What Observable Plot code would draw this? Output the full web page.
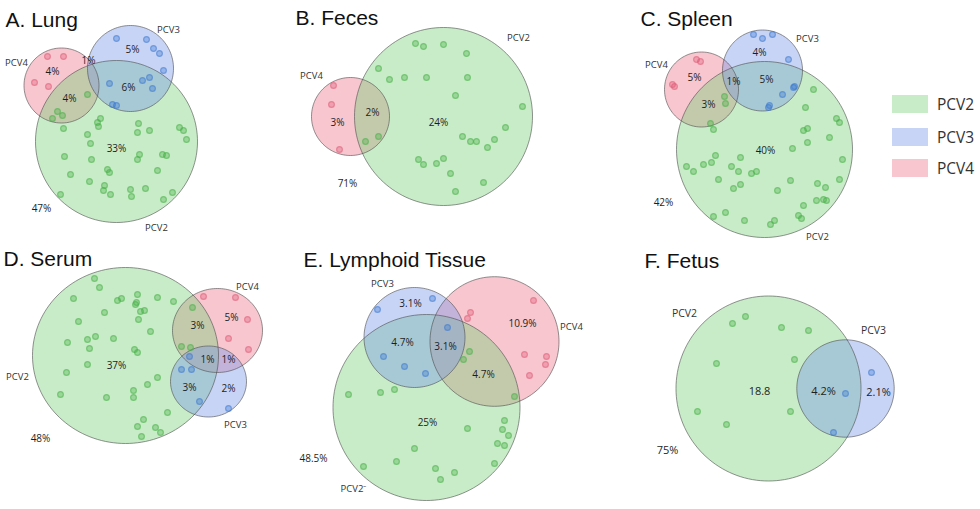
<!DOCTYPE html>
<html><head><meta charset="utf-8">
<script src="https://cdn.jsdelivr.net/npm/d3@7"></script>
<script src="https://cdn.jsdelivr.net/npm/@observablehq/plot@0.6"></script>
<style>
body{margin:0;background:#fff;}
#wrap{position:relative;width:980px;height:509px;overflow:hidden;}
#legend{position:absolute;left:892px;top:95px;font-family:"Open Sans",sans-serif;font-size:15.5px;color:#333;}
.item{position:absolute;left:0;display:flex;align-items:center;white-space:nowrap;height:18px;}
.sw{width:36px;height:18px;margin-right:9px;}
</style></head><body><div id="wrap"><div id="legend"></div></div>
<script>
// ---------- data ----------
const sets = ["PCV2", "PCV3", "PCV4"];
const panelTitles = ["A. Lung", "B. Feces", "C. Spleen", "D. Serum", "E. Lymphoid Tissue", "F. Fetus"];

// region percentages per panel
const lungValues   = ["47%", "4%", "1%", "5%", "4%", "6%", "33%"];
const fecesValues  = ["71%", "3%", "2%", "24%"];
const spleenValues = ["42%", "5%", "1%", "5%", "4%", "3%", "40%"];
const serumValues  = ["48%", "3%", "5%", "37%", "1%", "1%", "3%", "2%"];
const lymphValues  = ["48.5%", "3.1%", "10.9%", "4.7%", "3.1%", "4.7%", "25%"];
const fetusValues  = ["75%", "18.8", "4.2%", "2.1%"];

// set labels per panel
const lungSets   = ["PCV4", "PCV3", "PCV2"];
const fecesSets  = ["PCV2", "PCV4"];
const spleenSets = ["PCV4", "PCV3", "PCV2"];
const serumSets  = ["PCV4", "PCV3", "PCV2"];
const lymphSets  = ["PCV3", "PCV4", "PCV2⁻"];
const fetusSets  = ["PCV2", "PCV3"];

// sample points: [x, y, set]
const lungDots = [
  [47,56,"r"],[63,56,"r"],[34,82,"r"],[48,86,"r"],
  [87,94,"g"],[57,111,"g"],[62,115,"g"],[52,118,"g"],
  [116,38,"b"],[146,39,"b"],[153,48,"b"],[159,53,"b"],[163,70,"b"],
  [109,83,"b"],[142,80,"b"],[149,77,"b"],[152,88,"b"],[112,104,"b"],[116,105,"b"],
  [100,118,"g"],[97,122,"g"],[98,126,"g"],[63,128,"g"],[138,123,"g"],[137,132,"g"],[149,130,"g"],[179,127,"g"],
  [183,130,"g"],[186,139,"g"],[87,134,"g"],[90,143,"g"],[64,156,"g"],[91,159,"g"],[139,154,"g"],[137,159,"g"],
  [162,154,"g"],[166,155,"g"],[157,170,"g"],[70,174,"g"],[107,169,"g"],[109,172,"g"],[89,181,"g"],[104,185,"g"],
  [103,190,"g"],[110,194,"g"],[130,189,"g"],[131,196,"g"],[145,188,"g"],[60,194,"g"],[172,192,"g"],[163,199,"g"]
];
const fecesDots = [
  [333,85,"r"],[331,104,"r"],[339,149,"r"],
  [365,141,"g"],[378,136,"g"],
  [415,43,"g"],[423,46,"g"],[443,44,"g"],[466,53,"g"],[378,68,"g"],[389,79,"g"],[404,77,"g"],[426,77,"g"],
  [467,77,"g"],[455,95,"g"],[522,106,"g"],[505,127,"g"],[462,136,"g"],[470,141,"g"],[476,141,"g"],[494,139,"g"],
  [487,147,"g"],[418,159,"g"],[423,164,"g"],[436,163,"g"],[443,158,"g"],[450,173,"g"],[483,182,"g"],[455,191,"g"]
];
const spleenDots = [
  [696,59,"r"],[700,61,"r"],[672,84,"r"],[674,86,"r"],
  [724,96,"g"],[725,103,"g"],[710,123,"g"],
  [753,34,"b"],[762,38,"b"],[772,34,"b"],[788,59,"b"],
  [794,86,"b"],[793,87,"b"],[782,94,"b"],[769,105,"b"],[768,107,"b"],
  [813,89,"g"],[805,107,"g"],[713,129,"g"],[836,118,"g"],[839,122,"g"],[803,130,"g"],[807,128,"g"],[829,137,"g"],
  [807,142,"g"],[792,148,"g"],[715,155,"g"],[740,157,"g"],[711,162,"g"],[703,164,"g"],[686,166,"g"],[693,171,"g"],
  [731,166,"g"],[738,171,"g"],[751,173,"g"],[756,171,"g"],[842,159,"g"],[839,179,"g"],[718,179,"g"],[740,184,"g"],
  [733,188,"g"],[790,180,"g"],[777,190,"g"],[817,183,"g"],[825,187,"g"],[816,200,"g"],[823,199,"g"],[826,200,"g"],
  [803,205,"g"],[725,212,"g"],[713,216,"g"],[744,220,"g"],[774,220,"g"],[770,224,"g"],[798,215,"g"],[801,218,"g"]
];
const serumDots = [
  [94,278,"g"],[99,287,"g"],[73,298,"g"],[117,300,"g"],[121,298,"g"],[137,294,"g"],[136,302,"g"],[135,304,"g"],
  [157,297,"g"],[173,301,"g"],[140,311,"g"],[144,310,"g"],[104,312,"g"],[138,319,"g"],[78,321,"g"],[150,331,"g"],
  [67,342,"g"],[87,339,"g"],[95,336,"g"],[113,338,"g"],[89,348,"g"],[134,349,"g"],[137,352,"g"],[87,364,"g"],
  [66,372,"g"],[157,377,"g"],[147,384,"g"],[133,390,"g"],[133,397,"g"],[106,397,"g"],[60,394,"g"],[167,412,"g"],
  [143,419,"g"],[137,426,"g"],[155,427,"g"],[160,432,"g"],[141,436,"g"],
  [192,307,"g"],[181,346,"g"],[190,347,"g"],
  [203,296,"r"],[235,297,"r"],[247,319,"r"],[228,338,"r"],[248,349,"r"],
  [189,356,"b"],[181,369,"b"],[191,369,"b"],[199,401,"b"],[228,408,"b"]
];
const lymphDots = [
  [432,298,"b"],[377,309,"b"],[447,327,"b"],
  [533,300,"r"],[470,312,"r"],[467,318,"r"],[524,354,"r"],[546,356,"r"],[545,364,"r"],[529,375,"r"],
  [469,351,"g"],[463,359,"g"],[514,396,"g"],
  [383,356,"b"],[404,366,"b"],[425,373,"b"],
  [348,394,"g"],[380,392,"g"],[394,389,"g"],[504,420,"g"],[467,428,"g"],[502,429,"g"],[508,435,"g"],[497,443,"g"],
  [504,445,"g"],[414,448,"g"],[396,461,"g"],[363,466,"g"],[435,468,"g"],[454,472,"g"],[440,479,"g"],[494,463,"g"]
];
const fetusDots = [
  [745,316,"g"],[732,323,"g"],[781,327,"g"],[808,330,"g"],[794,359,"g"],[716,363,"g"],[790,411,"g"],[697,411,"g"],[726,424,"g"],
  [845,393,"b"],[833,432,"b"],[871,372,"b"]
];

// ---------- layout ----------
const titlePos = [[5,26],[295,24],[640,25],[3,265],[303,266],[644,267]];
const circleLayout = [ // drawn in this order: PCV4, PCV2, PCV3
  {set:"PCV4", cx:61,  cy:85,  rx:37.5, ry:37.5},
  {set:"PCV2", cx:116, cy:141, rx:81,   ry:81},
  {set:"PCV3", cx:130, cy:68,  rx:43,   ry:43},
  {set:"PCV4", cx:350, cy:116, rx:39,   ry:39},
  {set:"PCV2", cx:443, cy:116, rx:89,   ry:89},
  {set:"PCV4", cx:701, cy:89,  rx:37,   ry:37.5},
  {set:"PCV2", cx:764, cy:149, rx:88,   ry:88},
  {set:"PCV3", cx:762, cy:70,  rx:40,   ry:40.5},
  {set:"PCV4", cx:217, cy:330, rx:45,   ry:42},
  {set:"PCV2", cx:125, cy:355, rx:93,   ry:88},
  {set:"PCV3", cx:208, cy:381, rx:38,   ry:35.5},
  {set:"PCV4", cx:494, cy:341, rx:64.5, ry:64.8},
  {set:"PCV2", cx:426, cy:407, rx:93.5, ry:93},
  {set:"PCV3", cx:414, cy:337, rx:50.5, ry:50},
  {set:"PCV2", cx:768, cy:388, rx:92.5, ry:92.5},
  {set:"PCV3", cx:845, cy:388, rx:48.7, ry:48.7}
];
const lungValuePos   = [[41,208],[52,71],[88,60],[132,49],[69,98],[128,87],[116,148]];
const fecesValuePos  = [[347,183],[337,122],[372,112],[438,122]];
const spleenValuePos = [[663,202],[694,77],[733,81],[766,79],[759,52],[708,104],[765,150]];
const serumValuePos  = [[40,438],[197,325],[231,317],[116,365],[207,359],[228,359],[189,387],[228,388]];
const lymphValuePos  = [[313,458],[410,303],[522,323],[402,342],[445,346],[483,374],[427,422]];
const fetusValuePos  = [[667,450],[759,391],[823,391],[878,392]];
const lungSetPos   = [[16,62],[168,29],[156,227]];
const fecesSetPos  = [[518,37],[311,75]];
const spleenSetPos = [[656,64],[807,38],[817,236]];
const serumSetPos  = [[247,286],[235,424],[17,376]];
const lymphSetPos  = [[382,283],[571,326],[353,488]];
const fetusSetPos  = [[684,313],[873,330]];

// ---------- styles ----------
const setFill = {PCV2:"#76cf76", PCV3:"#7593e8", PCV4:"#eb7087"};
const dotColor = {g:"#45b045", b:"#3a78d0", r:"#e05a75"};

// ---------- build tables ----------
const zipText = (vals, pos, size) => vals.map((t,i)=>({text:t, x:pos[i][0], y:pos[i][1], size}));
const valueLabels = [
  ...zipText(lungValues, lungValuePos, 10), ...zipText(fecesValues, fecesValuePos, 10),
  ...zipText(spleenValues, spleenValuePos, 10), ...zipText(serumValues, serumValuePos, 10),
  ...zipText(lymphValues, lymphValuePos, 10), ...zipText(fetusValues, fetusValuePos, 11)
];
const setLabels = [
  ...zipText(lungSets, lungSetPos, 9.5), ...zipText(fecesSets, fecesSetPos, 9.5),
  ...zipText(spleenSets, spleenSetPos, 9.5), ...zipText(serumSets, serumSetPos, 9.5),
  ...zipText(lymphSets, lymphSetPos, 9.5), ...zipText(fetusSets, fetusSetPos, 10.5)
];
const titles = panelTitles.map((t,i)=>({text:t, x:titlePos[i][0], y:titlePos[i][1]}));
const dots = [...lungDots, ...fecesDots, ...spleenDots, ...serumDots, ...lymphDots, ...fetusDots]
  .map(([x,y,s])=>({x, y, c:dotColor[s]}));

const N = 144;
const ring = c => d3.range(N).map(k => {
  const t = 2*Math.PI*k/N;
  return {x: c.cx + c.rx*Math.cos(t), y: c.cy + c.ry*Math.sin(t)};
});

const fills = circleLayout.map(c => Plot.line(ring(c), {
  x:"x", y:"y", curve:"linear-closed", fill:setFill[c.set], fillOpacity:0.4, stroke:"none"
}));
const outlines = circleLayout.map(c => Plot.line(ring(c), {
  x:"x", y:"y", curve:"linear-closed", fill:"none", stroke:"#4d4d4d", strokeOpacity:0.6, strokeWidth:1
}));

const chart = Plot.plot({
  width:980, height:509, margin:0,
  x:{domain:[0,980], range:[0,980], axis:null},
  y:{domain:[0,509], range:[0,509], axis:null},
  color:{type:"identity"},
  style:{background:"#fff"},
  marks:[
    ...fills,
    ...outlines,
    Plot.dot(dots, {x:"x", y:"y", r:2.9, fill:"c", fillOpacity:0.35, stroke:"c", strokeOpacity:0.55, strokeWidth:1.2}),
    Plot.text(valueLabels, {x:"x", y:"y", text:"text", fontSize:d=>d.size, fontFamily:"Open Sans", fill:"#1e1e1e"}),
    Plot.text(setLabels, {x:"x", y:"y", text:"text", fontSize:d=>d.size, fontFamily:"Open Sans", fill:"#333"}),
    Plot.text(titles, {x:"x", y:"y", text:"text", textAnchor:"start", lineAnchor:"bottom", fontSize:21, fontFamily:"Liberation Sans, Arial, sans-serif", fill:"#111"})
  ]
});
const wrap = document.getElementById("wrap");
wrap.insertBefore(chart, wrap.firstChild);

// legend
const legendSwatch = {PCV2:"#c8ecc8", PCV3:"#c8d4f6", PCV4:"#f7c6cf"};
const legendTops = [0, 33, 64];
const legend = document.getElementById("legend");
sets.forEach((s,i)=>{
  const it = document.createElement("div");
  it.className = "item"; it.style.top = legendTops[i] + "px";
  it.innerHTML = `<div class="sw" style="background:${legendSwatch[s]}"></div><span>${s}</span>`;
  legend.appendChild(it);
});
</script>
</body></html>
